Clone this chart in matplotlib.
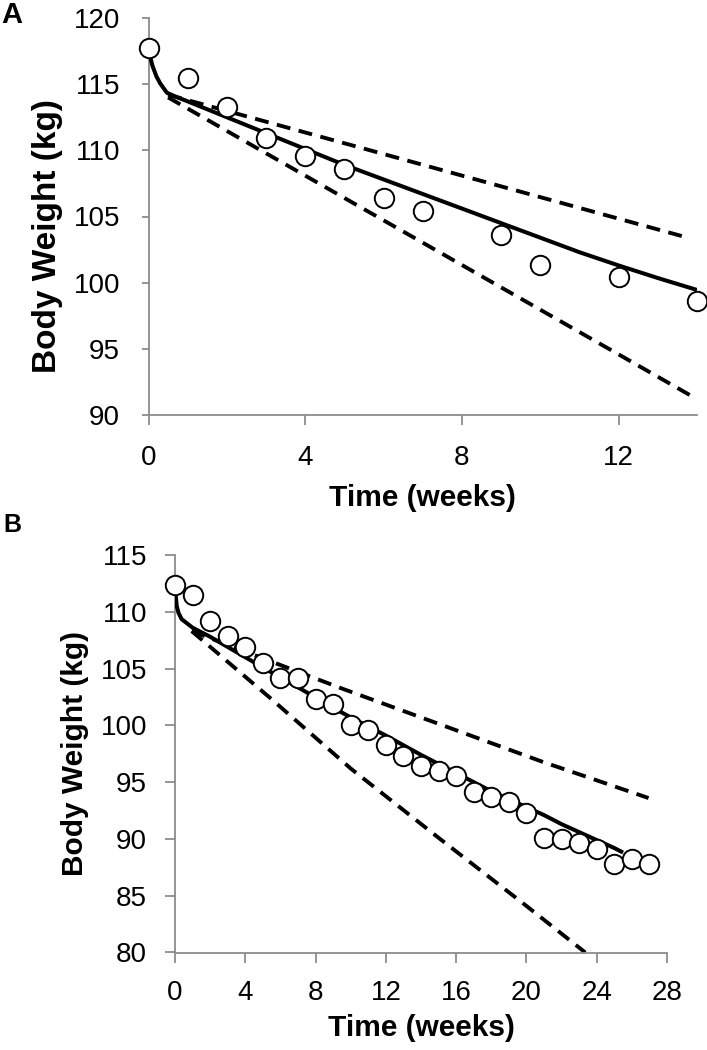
import matplotlib
matplotlib.use('Agg')
import matplotlib.pyplot as plt

plt.rcParams['font.family'] = ['Liberation Sans', 'DejaVu Sans']

# Panel A - observed weights (weeks, kg)
weeks_a = [0, 1, 2, 3, 4, 5, 6, 7, 9, 10, 12, 14]
weight_a = [117.75, 115.5, 113.25, 110.9, 109.55, 108.6, 106.4, 105.45, 103.6, 101.35, 100.45, 98.6]

# Panel A - model prediction (solid) and bounds (dashed)
model_a_t = [0, 0.05, 0.1, 0.2, 0.3, 0.47, 0.7, 1, 2, 3, 4, 5, 6, 7, 8, 9, 10, 11, 12, 13, 14]
model_a_w = [117.6, 117.0, 116.4, 115.6, 115.05, 114.35, 114.05, 113.7, 112.5, 111.3, 110.1, 108.9,
             107.8, 106.7, 105.6, 104.5, 103.4, 102.3, 101.3, 100.35, 99.45]
upper_a_t = [0.5, 13.7]
upper_a_w = [114.2, 103.45]
lower_a_t = [0.5, 14]
lower_a_w = [114.0, 91.2]

# Panel B - observed weights
weeks_b = list(range(28))
weight_b = [112.4, 111.45, 109.2, 107.88, 106.92, 105.52, 104.14, 104.2, 102.3, 101.92,
            100.07, 99.62, 98.24, 97.32, 96.38, 95.94, 95.5, 94.12, 93.68, 93.24,
            92.32, 90.04, 90.03, 89.65, 89.12, 87.79, 88.24, 87.79]

# Panel B - model prediction and bounds
model_b_t = [0, 0.05, 0.1, 0.2, 0.38, 1, 2, 3, 4, 5, 6, 7, 8, 9, 10, 11, 12, 13, 14, 15,
             16, 17, 18, 19, 20, 21, 22, 23, 24, 25, 25.5]
model_b_w = [112.2, 111.3, 110.5, 109.9, 109.35, 108.6, 107.8, 106.9, 106.0, 105.1, 104.2,
             103.35, 102.45, 101.55, 100.7, 99.9, 99.1, 98.25, 97.4, 96.6, 95.8, 95.0, 94.2,
             93.5, 92.8, 92.1, 91.3, 90.6, 89.9, 89.2, 88.8]
upper_b_t = [0.95, 9.4, 20.9, 26.95]
upper_b_w = [108.3, 103.3, 96.8, 93.6]
lower_b_t = [0.95, 5.5, 10, 15, 20, 23.35]
lower_b_w = [108.3, 102.3, 96.2, 90.1, 84.1, 80.0]

W, H = 707, 1050
fig = plt.figure(figsize=(W / 100, H / 100), dpi=100)

spine_col = '#8c8c8c'
dash = (0, (3.6, 2.2))


def make_axes(left, right, top, bottom):
    # pixel box -> figure fraction
    return fig.add_axes([left / W, 1 - bottom / H, (right - left) / W, (bottom - top) / H])


def style(ax, tlen_y, pad_y, tlen_x, pad_x):
    for s in ['top', 'right']:
        ax.spines[s].set_visible(False)
    for s in ['left', 'bottom']:
        ax.spines[s].set_color(spine_col)
        ax.spines[s].set_linewidth(1.3)
    ax.tick_params(axis='y', direction='out', length=tlen_y, width=1.3, color=spine_col,
                   pad=pad_y, labelsize=20)
    ax.tick_params(axis='x', direction='out', length=tlen_x, width=1.3, color=spine_col,
                   pad=pad_x, labelsize=20)


def draw(ax, t_obs, w_obs, mt, mw, ut, uw, lt, lw):
    ax.plot(ut, uw, color='k', lw=2.8, linestyle=dash, dash_capstyle='butt', zorder=2)
    ax.plot(lt, lw, color='k', lw=2.8, linestyle=dash, dash_capstyle='butt', zorder=2)
    ax.plot(mt, mw, color='k', lw=2.9, zorder=3, solid_capstyle='butt')
    ax.plot(t_obs, w_obs, 'o', ms=14, mfc='white', mec='k', mew=1.4, zorder=4, clip_on=False)


# ---- panel A
axA = make_axes(148.5, 697, 18, 415)
draw(axA, weeks_a, weight_a, model_a_t, model_a_w, upper_a_t, upper_a_w, lower_a_t, lower_a_w)
axA.set_xlim(0, 14)
axA.set_ylim(90, 120)
axA.set_xticks([0, 4, 8, 12])
axA.set_yticks(range(90, 121, 5))
style(axA, 5, 15.5, 7, 14.5)
axA.set_xlabel('Time (weeks)', fontsize=21.5, fontweight='bold')
axA.set_ylabel('Body Weight (kg)', fontsize=24, fontweight='bold')
axA.xaxis.set_label_coords(0.5, -(498 - 415) / 397)
axA.xaxis.label.set_va('center')
axA.yaxis.set_label_coords((48 - 148.5) / 548.5, (415 - 236) / 397)
axA.yaxis.label.set_va('center')

# ---- panel B
axB = make_axes(175, 667, 555, 952.5)
draw(axB, weeks_b, weight_b, model_b_t, model_b_w, upper_b_t, upper_b_w, lower_b_t, lower_b_w)
axB.set_xlim(0, 28)
axB.set_ylim(80, 115)
axB.set_xticks(range(0, 29, 4))
axB.set_yticks(range(80, 116, 5))
style(axB, 7, 13, 7, 13)
axB.set_xlabel('Time (weeks)', fontsize=21.5, fontweight='bold')
axB.set_ylabel('Body Weight (kg)', fontsize=21.5, fontweight='bold')
axB.xaxis.set_label_coords(0.5, -(1028 - 952.5) / 397.5)
axB.xaxis.label.set_va('center')
axB.yaxis.set_label_coords((75 - 175) / 492, 0.5)
axB.yaxis.label.set_va('center')

# panel letters
fig.text(1 / W, 1 - 15 / H, 'A', fontsize=21, fontweight='bold', va='center', ha='left')
fig.text(3 / W, 1 - 525 / H, 'B', fontsize=18, fontweight='bold', va='center', ha='left')

fig.savefig('out.png', dpi=100)
